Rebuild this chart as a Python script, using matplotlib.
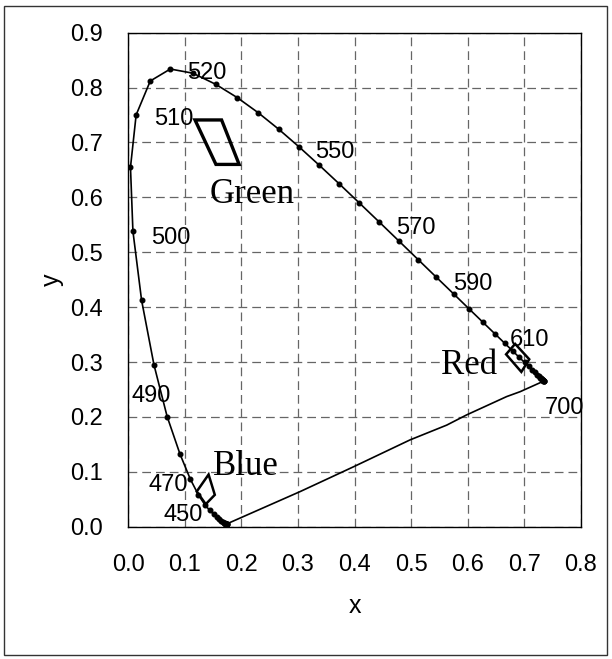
import matplotlib
matplotlib.use("Agg")
import matplotlib.pyplot as plt
from matplotlib.patches import Rectangle

# CIE 1931 spectral locus, 380-700 nm every 5 nm
locus_x = [0.1741, 0.1740, 0.1738, 0.1736, 0.1733, 0.1730, 0.1726, 0.1721,
           0.1714, 0.1703, 0.1689, 0.1669, 0.1644, 0.1611, 0.1566, 0.1510,
           0.1440, 0.1355, 0.1241, 0.1096, 0.0913, 0.0687, 0.0454, 0.0235,
           0.0082, 0.0039, 0.0139, 0.0389, 0.0743, 0.1142, 0.1547, 0.1929,
           0.2296, 0.2658, 0.3016, 0.3373, 0.3731, 0.4087, 0.4441, 0.4788,
           0.5125, 0.5448, 0.5752, 0.6029, 0.6270, 0.6482, 0.6658, 0.6801,
           0.6915, 0.7006, 0.7079, 0.7140, 0.7190, 0.7230, 0.7260, 0.7283,
           0.7300, 0.7311, 0.7320, 0.7327, 0.7334, 0.7340, 0.7344, 0.7346,
           0.7347]
locus_y = [0.0050, 0.0050, 0.0049, 0.0049, 0.0048, 0.0048, 0.0048, 0.0048,
           0.0051, 0.0058, 0.0069, 0.0086, 0.0109, 0.0138, 0.0177, 0.0227,
           0.0297, 0.0399, 0.0578, 0.0868, 0.1327, 0.2007, 0.2950, 0.4127,
           0.5384, 0.6548, 0.7502, 0.8120, 0.8338, 0.8262, 0.8059, 0.7816,
           0.7543, 0.7243, 0.6923, 0.6589, 0.6245, 0.5896, 0.5547, 0.5202,
           0.4866, 0.4544, 0.4242, 0.3965, 0.3725, 0.3514, 0.3340, 0.3197,
           0.3083, 0.2993, 0.2920, 0.2859, 0.2809, 0.2770, 0.2740, 0.2717,
           0.2700, 0.2689, 0.2680, 0.2673, 0.2666, 0.2660, 0.2656, 0.2654,
           0.2653]

# purple line from 700 nm back to 380 nm
purple_x = [0.7347, 0.693, 0.669, 0.598, 0.563, 0.498, 0.398, 0.304, 0.1741]
purple_y = [0.2653, 0.246, 0.237, 0.2035, 0.185, 0.158, 0.109, 0.064, 0.0050]

# wavelength labels: text, x, y (lower-left of text)
wl_text = ["520", "510", "550", "500", "570", "590", "610", "700", "490", "470", "450"]
wl_x = [0.104, 0.045, 0.330, 0.040, 0.473, 0.575, 0.675, 0.737, 0.005, 0.036, 0.063]
wl_y = [0.815, 0.731, 0.672, 0.515, 0.533, 0.431, 0.330, 0.205, 0.228, 0.065, 0.011]

# primary regions
green_x = [0.118, 0.165, 0.196, 0.155]
green_y = [0.741, 0.741, 0.660, 0.660]
red_x = [0.684, 0.709, 0.695, 0.668]
red_y = [0.333, 0.305, 0.282, 0.314]
blue_x = [0.142, 0.153, 0.137, 0.121]
blue_y = [0.095, 0.058, 0.041, 0.064]

region_names = ["Green", "Red", "Blue"]
region_text_x = [0.1445, 0.553, 0.150]
region_text_y = [0.589, 0.279, 0.094]


def main():
    fig = plt.figure(figsize=(6.12, 6.59), dpi=100)
    ax = fig.add_axes([0.2096, 0.2008, 0.7393, 0.7496])

    sans = "Liberation Sans"
    serif = "Liberation Serif"

    ax.plot(locus_x, locus_y, color="black", lw=1.2, marker="o",
            markersize=3.3, zorder=3)
    ax.plot(purple_x, purple_y, color="black", lw=1.2, zorder=3)

    for xs, ys, lw in [(green_x, green_y, 2.4), (red_x, red_y, 1.8), (blue_x, blue_y, 1.8)]:
        ax.fill(xs, ys, facecolor="none", edgecolor="black", lw=lw, zorder=4)

    for t, x, y in zip(wl_text, wl_x, wl_y):
        ax.text(x, y, t, fontsize=17, family=sans, ha="left", va="baseline",
                zorder=5)

    for t, x, y in zip(region_names, region_text_x, region_text_y):
        ax.text(x, y, t, fontsize=25, family=serif, ha="left", va="baseline",
                zorder=5)

    ax.set_xlim(0, 0.8)
    ax.set_ylim(0, 0.9)
    ax.set_xticks([i / 10 for i in range(9)])
    ax.set_yticks([i / 10 for i in range(10)])
    ax.set_xticklabels([f"{i / 10:.1f}" for i in range(9)], family=sans, fontsize=17)
    ax.set_yticklabels([f"{i / 10:.1f}" for i in range(10)], family=sans, fontsize=17)
    ax.tick_params(axis="both", length=0)
    ax.tick_params(axis="x", pad=20)
    ax.tick_params(axis="y", pad=18)

    ax.grid(True, color="#666666", lw=0.9, linestyle=(0, (7, 4)))
    ax.set_axisbelow(True)
    for sp in ax.spines.values():
        sp.set_linewidth(1.0)

    ax.set_xlabel("x", family=sans, fontsize=18)
    ax.set_ylabel("y", family=sans, fontsize=18)
    ax.xaxis.set_label_coords(0.5, -0.1605)
    ax.xaxis.label.set_va("center")
    ax.yaxis.set_label_coords(-0.169, 0.5)
    ax.yaxis.label.set_va("center")

    # outer frame
    fig.patches.append(Rectangle((4 / 612, 4 / 659), 603 / 612, 649 / 659,
                                 transform=fig.transFigure, fill=False,
                                 edgecolor="#333333", lw=1.0))

    fig.savefig("out.png", dpi=100)
    plt.close(fig)


if __name__ == "__main__":
    main()
